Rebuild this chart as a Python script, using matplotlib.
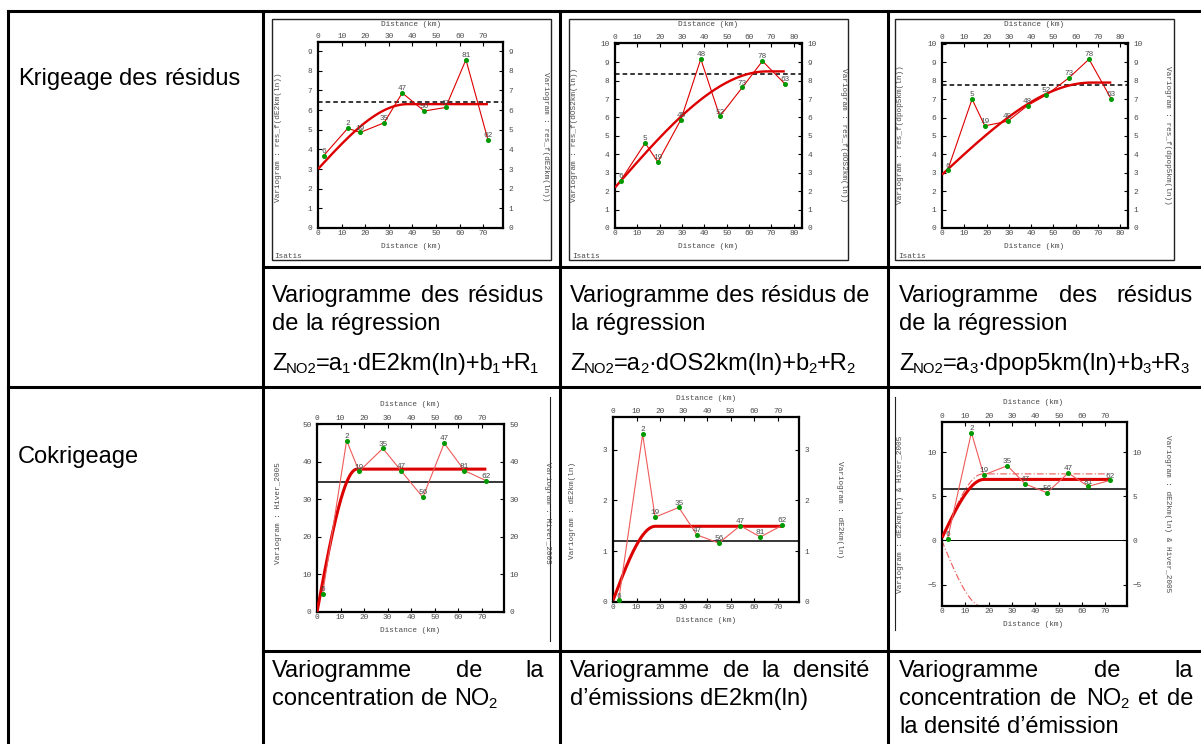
import re
import numpy as np
import matplotlib
matplotlib.use("Agg")
import matplotlib.pyplot as plt
from matplotlib.patches import Rectangle

plt.rcParams["font.family"] = ["Liberation Sans", "DejaVu Sans"]

# ---- experimental variograms ------------------------------------------------
# lags (km) and pair counts of the dE2km / Hiver_2005 variograms
lags_a = [2.4, 12.6, 17.9, 28.0, 35.7, 45.0, 54.1, 62.7, 72.0]
pairs_a = [6, 2, 19, 35, 47, 56, 47, 81, 62]
# lags (km) and pair counts of the dOS2km / dpop5km residual variograms
lags_b = [2.5, 13.5, 19.2, 29.5, 38.4, 46.9, 57.0, 66.0, 76.0]
pairs_b = [6, 5, 19, 45, 48, 52, 73, 78, 63]

gamma_res_de2km = [3.68, 5.07, 4.86, 5.35, 6.87, 5.95, 6.13, 8.56, 4.49]
gamma_res_dos2km = [2.57, 4.61, 3.58, 5.88, 9.17, 6.06, 7.63, 9.06, 7.83]
gamma_res_dpop5km = [3.13, 7.00, 5.55, 5.80, 6.65, 7.23, 8.16, 9.17, 7.00]
gamma_hiver = [4.9, 45.6, 37.4, 43.5, 37.6, 30.5, 44.9, 37.6, 34.9]
gamma_de2km = [0.03, 3.30, 1.67, 1.86, 1.32, 1.16, 1.50, 1.28, 1.51]
gamma_cross = [0.19, 12.2, 7.40, 8.45, 6.38, 5.40, 7.62, 6.11, 6.79]

# ---- fitted spherical models: nugget, total sill, range (km) -----------------
model_res_de2km = [3.0, 6.3, 38.0]
model_res_dos2km = [2.2, 8.5, 68.0]
model_res_dpop5km = [2.9, 7.9, 67.0]
model_hiver = [0.0, 38.0, 17.0]
model_de2km = [0.03, 1.49, 18.0]
model_cross = [0.3, 6.9, 18.0]

# ---- experimental variances / covariance --------------------------------------
var_res_de2km = 6.40
var_res_dos2km = 8.38
var_res_dpop5km = 7.78
var_hiver = 34.7
var_de2km = 1.20
cov_cross = 5.81

W, H = 1201, 744
fig = plt.figure(figsize=(W / 100, H / 100), dpi=100)

RED = "#dd0000"
LIGHT_RED = "#ee5a5a"
GREEN = "#009a00"
TXT = "#4a4a4a"
MONO = "Liberation Mono"
SMALL = 5.6


def spherical(h, nugget, sill, rng):
    r = np.minimum(np.asarray(h) / rng, 1.0)
    return nugget + (sill - nugget) * (1.5 * r - 0.5 * r ** 3)


def rect_fig(x0, y0, x1, y1):
    return [x0 / W, 1 - y1 / H, (x1 - x0) / W, (y1 - y0) / H]


def draw_panel(box, xlim, ylim, xticks, yticks, lags, gam, pairs, model,
               exp_color, model_lw):
    ax = fig.add_axes(rect_fig(*box))
    ax.set_xlim(*xlim)
    ax.set_ylim(*ylim)
    ax.set_xticks(xticks)
    ax.set_yticks(yticks)
    ax.tick_params(direction="in", top=True, right=True, labeltop=True,
                   labelright=True, length=3, width=0.8, labelsize=SMALL,
                   labelcolor=TXT, labelfontfamily=MONO)
    ax.tick_params(axis="x", pad=1.5)
    ax.tick_params(axis="y", pad=4)
    for sp in ax.spines.values():
        sp.set_linewidth(1.6)
    hh = np.linspace(0, lags[-1], 400)
    ax.plot(hh, spherical(hh, *model), color=RED, lw=model_lw,
            solid_capstyle="butt", zorder=3)
    ax.plot(lags, gam, color=exp_color, lw=0.8, zorder=4)
    ax.plot(lags, gam, "o", color=GREEN, ms=2.6, mec=GREEN, zorder=5)
    for x, y, n in zip(lags, gam, pairs):
        ax.annotate(str(n), (x, y), xytext=(0, 0.6), textcoords="offset points",
                    ha="center", va="bottom", fontsize=SMALL, family=MONO,
                    color=TXT, zorder=6)
    return ax


# ---- row 1: residual variograms -------------------------------------------
ax1 = draw_panel((318, 42, 503, 228), (0, 78.4), (0, 9.46), range(0, 80, 10),
                 range(0, 10), lags_a, gamma_res_de2km, pairs_a,
                 model_res_de2km, RED, 1.7)
ax1.axhline(var_res_de2km, color="k", lw=1.1, ls=(0, (3, 2)))

ax2 = draw_panel((615, 43, 802, 228), (0, 83.7), (0, 10.04), range(0, 90, 10),
                 range(0, 11), lags_b, gamma_res_dos2km, pairs_b,
                 model_res_dos2km, RED, 1.7)
ax2.axhline(var_res_dos2km, color="k", lw=1.1, ls=(0, (3, 2)))

ax3 = draw_panel((942, 43, 1128, 228), (0, 83.5), (0, 10.05), range(0, 90, 10),
                 range(0, 11), lags_b, gamma_res_dpop5km, pairs_b,
                 model_res_dpop5km, RED, 1.7)
ax3.axhline(var_res_dpop5km, color="k", lw=1.1, ls=(0, (3, 2)))

# ---- row 2: simple and cross variograms -----------------------------------
ax4 = draw_panel((317, 424, 504, 612), (0, 79.5), (0, 50), range(0, 80, 10),
                 range(0, 60, 10), lags_a, gamma_hiver, pairs_a,
                 model_hiver, LIGHT_RED, 2.2)
ax4.axhline(var_hiver, color="k", lw=1.1)

ax5 = draw_panel((613, 417, 799, 602), (0, 79.1), (0, 3.64), range(0, 80, 10),
                 range(0, 4), lags_a, gamma_de2km, pairs_a,
                 model_de2km, LIGHT_RED, 2.2)
ax5.axhline(var_de2km, color="k", lw=1.1)

ax6 = draw_panel((942, 422, 1127, 606), (0, 79.3), (-7.43, 13.4),
                 range(0, 80, 10), [-5, 0, 5, 10], lags_a, gamma_cross, pairs_a,
                 model_cross, LIGHT_RED, 2.2)
ax6.axhline(cov_cross, color="k", lw=1.1)
ax6.axhline(0, color="k", lw=0.7)
hh = np.linspace(0, lags_a[-1], 400)
bound = np.sqrt(spherical(hh, *model_hiver) * spherical(hh, *model_de2km))
ax6.plot(hh, bound, color=LIGHT_RED, lw=0.8, ls=(0, (6, 2, 1, 2)), zorder=2)
ax6.plot(hh, -bound, color=LIGHT_RED, lw=0.8, ls=(0, (6, 2, 1, 2)), zorder=2)

# ---- overlay in pixel coordinates: table, captions, panel labels ---------------
ov = fig.add_axes([0, 0, 1, 1], zorder=10)
ov.set_xlim(0, W)
ov.set_ylim(H, 0)
ov.axis("off")

TLW = 2.2
for x in (8, 263, 560, 888):
    ov.plot([x, x], [11, H + 5], color="k", lw=TLW, solid_capstyle="projecting")
ov.plot([8, W + 5], [11, 11], color="k", lw=TLW, solid_capstyle="projecting")
ov.plot([263, W + 5], [267, 267], color="k", lw=TLW)
ov.plot([8, W + 5], [387, 387], color="k", lw=TLW)
ov.plot([263, W + 5], [651, 651], color="k", lw=TLW)

# frames of the residual plots and partial frame lines below
for x0 in (272, 569, 895):
    ov.add_patch(Rectangle((x0, 19), 279, 241, fill=False, lw=1.0, ec="#222222"))
ov.plot([550, 550], [397, 641], color="#222222", lw=0.8)
ov.plot([895, 895], [397, 630], color="#222222", lw=0.8)

# axis titles of each panel
panel_text = [
    # (centre x, top y, bottom y, left label x, right label x, label y, label)
    (411, 25, 247, 278, 545, 137, "Variogram : res_f(dE2km(ln))"),
    (708, 25, 247, 575, 843, 135, "Variogram : res_f(dOS2km(ln))"),
    (1034, 25, 247, 901, 1168, 135, "Variogram : res_f(dpop5km(ln))"),
    (410, 404, 631, 278, 547, 513, "Variogram : Hiver_2005"),
    (706, 398, 620, 572, 840, 510, "Variogram : dE2km(ln)"),
    (1033, 402, 625, 900, 1168, 514, "Variogram : dE2km(ln) & Hiver_2005"),
]
for cx, ty, by, lx, rx, ly, lab in panel_text:
    for yy in (ty, by):
        ov.text(cx, yy, "Distance (km)", ha="center", va="center",
                fontsize=SMALL, family=MONO, color=TXT)
    ov.text(lx, ly, lab, ha="center", va="center", rotation=90,
            fontsize=SMALL, family=MONO, color=TXT)
    ov.text(rx, ly, lab, ha="center", va="center", rotation=270,
            fontsize=SMALL, family=MONO, color=TXT)
for x0 in (274, 572, 898):
    ov.text(x0, 257, "Isatis", ha="left", va="center", fontsize=SMALL,
            family=MONO, color=TXT)

# ---- captions --------------------------------------------------------------
FS = 17
SUB_FS = FS * 0.63
SUB_DROP = 3.0
SUB_TIGHT = 1.0
renderer = fig.canvas.get_renderer()


def width_of(t):
    return t.get_window_extent(renderer).width


def split_sub(word):
    """Split 'Z_{NO2}=a_{1}' style words into (text, is_subscript) pieces."""
    out, pos = [], 0
    for m in re.finditer(r"_\{([^}]*)\}", word):
        if m.start() > pos:
            out.append((word[pos:m.start()], False))
        out.append((m.group(1), True))
        pos = m.end()
    if pos < len(word):
        out.append((word[pos:], False))
    return out


_a1 = ov.text(0, 0, "a a", fontsize=FS)
_a2 = ov.text(0, 0, "aa", fontsize=FS)
SPACE = width_of(_a1) - width_of(_a2)
_a1.remove()
_a2.remove()


def line(words, x0, y, x1=None):
    groups = []
    for w in words:
        items = []
        for txt, sub in split_sub(w):
            t = ov.text(0, y + (SUB_DROP if sub else 0), txt, ha="left",
                        va="baseline", fontsize=SUB_FS if sub else FS, color="k")
            items.append((t, sub, width_of(t)))
        groups.append(items)
    widths = [sum(wd for _, _, wd in g) - SUB_TIGHT * sum(s for _, s, _ in g)
              for g in groups]
    gap = SPACE if x1 is None or len(words) < 2 else \
        (x1 - x0 - sum(widths)) / (len(words) - 1)
    x = x0
    for g, w in zip(groups, widths):
        xx = x
        for t, sub, wd in g:
            if sub:
                xx -= SUB_TIGHT
            t.set_x(xx)
            xx += wd
        x += w + gap


line(["Krigeage", "des", "résidus"], 18, 85)
line(["Cokrigeage"], 18, 463)

line(["Variogramme", "des", "résidus"], 272, 302, 544)
line(["de", "la", "régression"], 272, 330)
line(["Z_{NO2}=a_{1}·dE2km(ln)+b_{1}+R_{1}"], 272, 370)

line(["Variogramme", "des", "résidus", "de"], 570, 302, 869)
line(["la", "régression"], 570, 330)
line(["Z_{NO2}=a_{2}·dOS2km(ln)+b_{2}+R_{2}"], 570, 370)

line(["Variogramme", "des", "résidus"], 899, 302, 1193)
line(["de", "la", "régression"], 899, 330)
line(["Z_{NO2}=a_{3}·dpop5km(ln)+b_{3}+R_{3}"], 899, 370)

line(["Variogramme", "de", "la"], 272, 677, 544)
line(["concentration", "de", "NO_{2}"], 272, 705)

line(["Variogramme", "de", "la", "densité"], 570, 677, 869)
line(["d’émissions", "dE2km(ln)"], 570, 705)

line(["Variogramme", "de", "la"], 899, 677, 1193)
line(["concentration", "de", "NO_{2}", "et", "de"], 899, 705, 1193)
line(["la", "densité", "d’émission"], 899, 733)

fig.savefig("out.png", dpi=100, facecolor="white")
